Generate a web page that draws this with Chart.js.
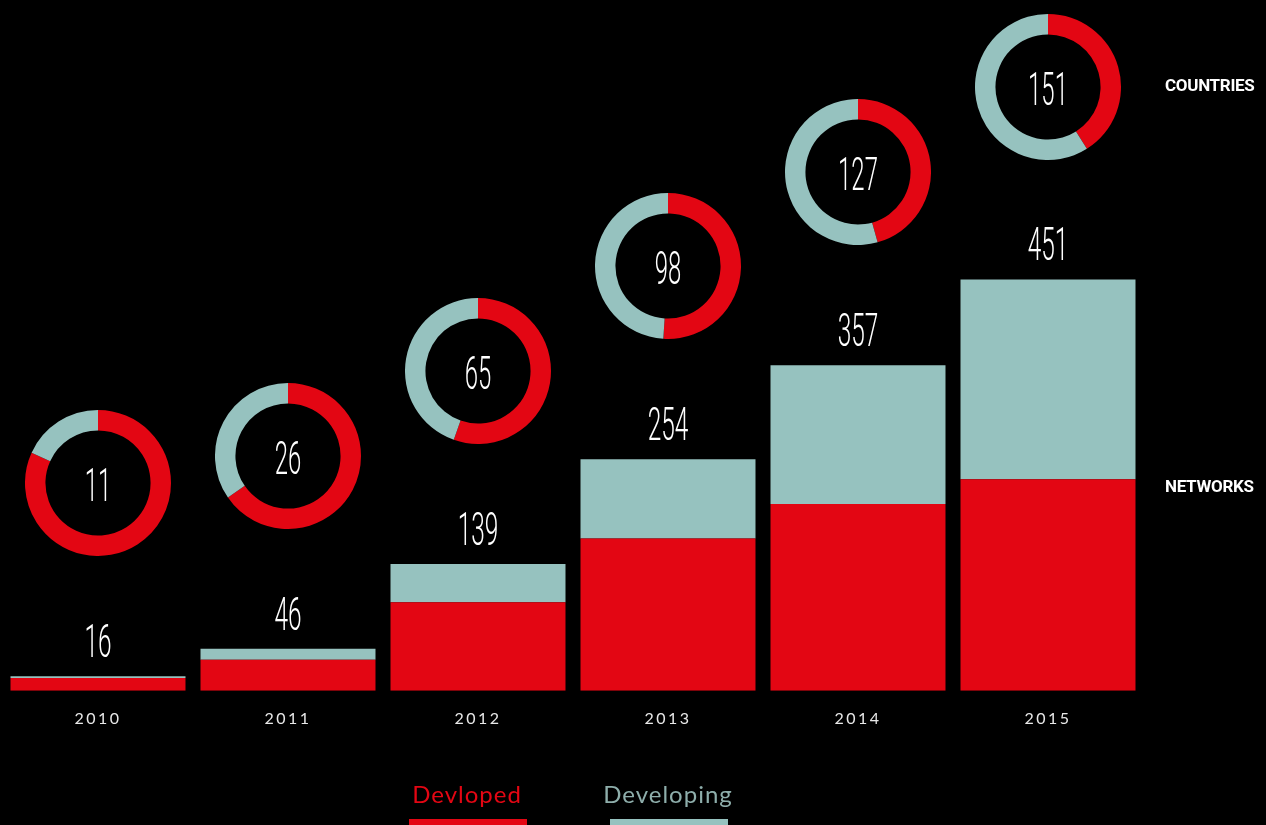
<!DOCTYPE html>
<html>
<head>
<meta charset="utf-8">
<script src="https://cdn.jsdelivr.net/npm/chart.js@4.4.0/dist/chart.umd.min.js"></script>
<style>
html,body{margin:0;padding:0;background:#000;}
#wrap{position:relative;width:1266px;height:825px;background:#000;overflow:hidden;}
#bar{position:absolute;left:0;top:0;}
.donut{position:absolute;}
.side{position:absolute;left:1165px;font-family:Roboto,"Open Sans",sans-serif;font-weight:700;color:#fff;font-size:17px;line-height:20px;letter-spacing:-0.3px;}
.legtxt{position:absolute;width:200px;text-align:center;font-family:Lato,"Open Sans",sans-serif;font-size:24px;letter-spacing:1px;line-height:28px;}
.legbar{position:absolute;height:6px;width:118px;}
</style>
</head>
<body>
<div id="wrap">
  <canvas id="bar" width="1266" height="825"></canvas>
  <div class="side" style="top:75px;">COUNTRIES</div>
  <div class="side" style="top:476px;">NETWORKS</div>
  <div class="legtxt" style="left:367px;top:780px;color:#e30613;">Devloped</div>
  <div class="legtxt" style="left:568px;top:780px;color:#8eaeab;">Developing</div>
  <div class="legbar" style="left:409px;top:819px;background:#e30613;"></div>
  <div class="legbar" style="left:610px;top:819px;background:#96c2bf;"></div>
</div>
<script>
// ---- data ----
const years = ['2010', '2011', '2012', '2013', '2014', '2015'];
const networksDeveloped = [14, 34, 97, 167, 205, 232];
const networksDeveloping = [2, 12, 42, 87, 152, 219];
const countriesDeveloped = [9, 17, 36, 50, 58, 62];
const countriesDeveloping = [2, 9, 29, 48, 69, 89];

const RED = '#e30613';
const TEAL = '#96c2bf';

const condensedText = (ctx, text, x, y, size) => {
  ctx.save();
  ctx.letterSpacing = '0px';
  ctx.fillStyle = '#ffffff';
  ctx.font = '300 ' + size + 'px Roboto';
  ctx.textAlign = 'center';
  ctx.textBaseline = 'alphabetic';
  ctx.translate(x, y + size * 0.355);
  ctx.scale(0.52, 1);
  ctx.fillText(text, 0, 0);
  ctx.restore();
};

const barLabels = {
  id: 'barLabels',
  beforeDraw(chart) { chart.ctx.letterSpacing = '2.5px'; },
  afterDatasetsDraw(chart) {
    const { ctx, scales: { x, y } } = chart;
    years.forEach((yr, i) => {
      const total = networksDeveloped[i] + networksDeveloping[i];
      condensedText(ctx, String(total), x.getPixelForValue(i), y.getPixelForValue(total) - 36, 47);
    });
  }
};

const barChart = new Chart(document.getElementById('bar'), {
  type: 'bar',
  data: {
    labels: years,
    datasets: [
      { label: 'Devloped', data: networksDeveloped, backgroundColor: RED, borderWidth: 0 },
      { label: 'Developing', data: networksDeveloping, backgroundColor: TEAL, borderWidth: 0 }
    ]
  },
  options: {
    responsive: false,
    animation: false,
    devicePixelRatio: 1,
    layout: { padding: { top: 7, left: 3, right: 123, bottom: 79 } },
    datasets: { bar: { categoryPercentage: 1, barPercentage: 0.921 } },
    plugins: { legend: { display: false }, tooltip: { enabled: false } },
    scales: {
      x: {
        stacked: true,
        grid: { display: false, drawTicks: false },
        border: { display: false },
        ticks: { color: '#e8e8e8', padding: 18, font: { family: 'Lato', size: 16 } }
      },
      y: { stacked: true, display: false, min: 0, max: 750 }
    }
  },
  plugins: [barLabels]
});

// ---- donuts (countries) positioned from the bar chart scales ----
const wrap = document.getElementById('wrap');
const SIZE = 146;
years.forEach((yr, i) => {
  const total = networksDeveloped[i] + networksDeveloping[i];
  const cx = barChart.scales.x.getPixelForValue(i);
  const cy = barChart.scales.y.getPixelForValue(total) - 193;
  const c = document.createElement('canvas');
  c.width = SIZE; c.height = SIZE;
  c.className = 'donut';
  c.style.left = (cx - SIZE / 2) + 'px';
  c.style.top = (cy - SIZE / 2) + 'px';
  wrap.appendChild(c);
  const count = countriesDeveloped[i] + countriesDeveloping[i];
  new Chart(c, {
    type: 'doughnut',
    data: {
      labels: ['Devloped', 'Developing'],
      datasets: [{ data: [countriesDeveloped[i], countriesDeveloping[i]], backgroundColor: [RED, TEAL], borderWidth: 0 }]
    },
    options: {
      responsive: false,
      animation: false,
      devicePixelRatio: 1,
      cutout: '72%',
      layout: { padding: 0 },
      plugins: { legend: { display: false }, tooltip: { enabled: false } }
    },
    plugins: [{
      id: 'centerText',
      afterDatasetsDraw(ch) {
        const a = ch.chartArea;
        condensedText(ch.ctx, String(count), (a.left + a.right) / 2, (a.top + a.bottom) / 2 + 2, 46);
      }
    }]
  });
});
</script>
</body>
</html>
